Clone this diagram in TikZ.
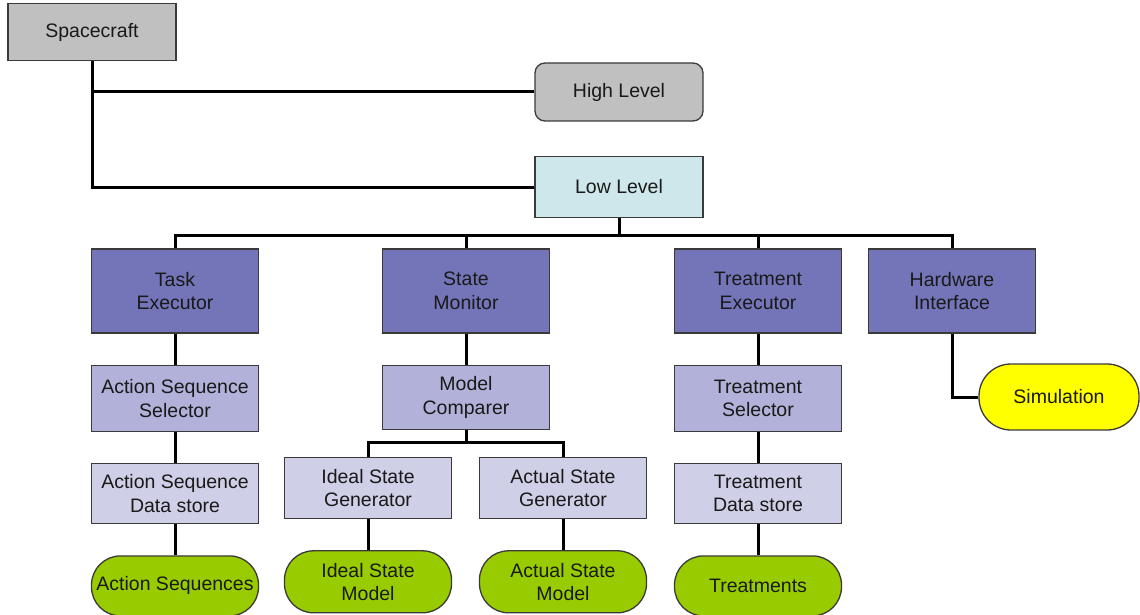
\documentclass[tikz,border=0pt]{standalone}
\usepackage{fontspec}
\setmainfont{Liberation Sans}
\usetikzlibrary{positioning}

\definecolor{craftgray}{HTML}{C0C0C0}
\definecolor{lowcyan}{HTML}{CDE7EB}
\definecolor{headblue}{HTML}{7475B9}
\definecolor{subblue}{HTML}{B1B1D9}
\definecolor{storeblue}{HTML}{CFCFE7}
\definecolor{leafgreen}{HTML}{99CC00}
\definecolor{simyellow}{HTML}{FFFF00}
\definecolor{boxline}{HTML}{3A3A3A}

\tikzset{
  box/.style={draw=boxline, line width=1.3pt, minimum width=167pt, align=center,
    inner sep=0pt, text=black!90, font=\fontsize{19.5}{23.5}\selectfont},
  levelbox/.style={box, fill=craftgray, minimum width=168pt, minimum height=58pt},
  headbox/.style={box, fill=headblue, minimum height=84pt},
  subbox/.style={box, fill=subblue, minimum height=66pt},
  storebox/.style={box, fill=storeblue, minimum height=60pt},
  leafbox/.style={box, fill=leafgreen, minimum height=60pt, rounded corners=29pt},
  link/.style={line width=3pt},
}

\begin{document}
\begin{tikzpicture}[x=1pt,y=-1pt]
  \useasboundingbox (0,0) rectangle (1140,615);

  % top levels
  \node[levelbox, minimum height=57pt] (craft) at (92,32) {Spacecraft};
  \node[levelbox, rounded corners=10pt] (high) at (619,92) {High Level};
  \node[levelbox, fill=lowcyan, minimum height=61pt] (low) at (619,187) {Low Level};

  % components
  \node[headbox] (task) at (175,291) {Task\\Executor};
  \node[headbox] (monitor) at (466,291) {State\\Monitor};
  \node[headbox] (treat) at (758,291) {Treatment\\Executor};
  \node[headbox] (hw) at (952,291) {Hardware\\Interface};

  \node[subbox, below=31pt of task] (selector) {Action Sequence\\Selector};
  \node[storebox, below=31pt of selector] (seqstore) {Action Sequence\\Data store};
  \node[leafbox, below=31pt of seqstore] (sequences) {Action Sequences};

  \node[subbox, minimum height=64pt, below=31pt of monitor] (comparer) {Model\\Comparer};
  \node[storebox, minimum height=61pt] (idealgen) at (368,488) {Ideal State\\Generator};
  \node[storebox, minimum height=61pt] (actualgen) at (563,488) {Actual State\\Generator};
  \node[leafbox, minimum height=62pt, below=31pt of idealgen] (idealmodel) {Ideal State\\Model};
  \node[leafbox, minimum height=62pt, below=31pt of actualgen] (actualmodel) {Actual State\\Model};

  \node[subbox, below=31pt of treat] (treatsel) {Treatment\\Selector};
  \node[storebox, below=31pt of treatsel] (treatstore) {Treatment\\Data store};
  \node[leafbox, below=31pt of treatstore] (treatments) {Treatments};

  \node[leafbox, fill=simyellow, minimum width=160pt, minimum height=66pt,
    rounded corners=32pt] (sim) at (1059,397) {Simulation};

  % connectors
  \draw[link] (craft.south) |- (high.west);
  \draw[link] (craft.south) |- (low.west);

  \draw[link] (low.south) -- ++(0,17.5) coordinate (lowbus);
  \draw[link] (task.north) |- (lowbus) -| (hw.north);
  \draw[link] (monitor.north) -- (monitor.north |- lowbus);
  \draw[link] (treat.north) -- (treat.north |- lowbus);

  \draw[link] (task) -- (selector) -- (seqstore) -- (sequences);

  \draw[link] (monitor) -- (comparer);
  \draw[link] (comparer.south) -- ++(0,13) coordinate (cmpbus);
  \draw[link] (idealgen.north) |- (cmpbus) -| (actualgen.north);
  \draw[link] (idealgen) -- (idealmodel);
  \draw[link] (actualgen) -- (actualmodel);

  \draw[link] (treat) -- (treatsel) -- (treatstore) -- (treatments);

  \draw[link] (hw.south) |- (sim.west);
\end{tikzpicture}
\end{document}
